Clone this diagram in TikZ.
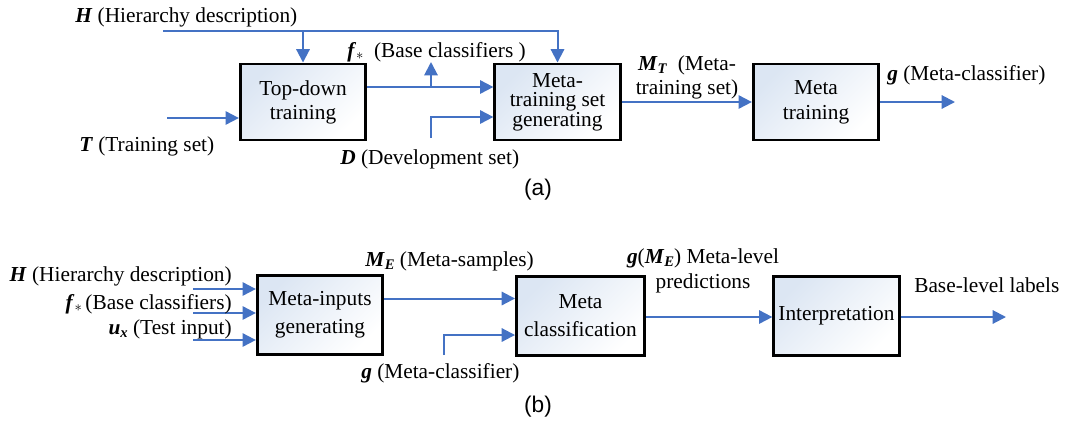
\documentclass[tikz,border=0pt]{standalone}
\usepackage{fontspec}
\setmainfont{Liberation Serif}
\setsansfont{Liberation Sans}
\usetikzlibrary{arrows.meta,calc}
\definecolor{lineblue}{RGB}{68,114,196}
\definecolor{boxtop}{RGB}{220,230,243}
\newcommand{\bim}[1]{\textbf{\textit{#1}}}
\newcommand{\subbi}[1]{\raisebox{-0.35ex}{\fontsize{11}{11}\selectfont\bim{#1}}}
\newcommand{\fstar}{\bim{f}\raisebox{-0.25ex}{\fontsize{11}{11}\selectfont$*$}}
\begin{document}
\begin{tikzpicture}[x=0.75pt,y=-0.75pt,
  lbl/.style={inner sep=0pt,font=\fontsize{16}{18}\selectfont},
  stepbox/.style={draw=black,line width=2.2pt,top color=boxtop,bottom color=white,shading angle=45,
    minimum width=94pt,minimum height=57pt,align=center,inner sep=0pt},
  arr/.style={draw=lineblue,line width=1.5pt,-{Triangle[length=10pt,width=10pt]}},
  plain/.style={draw=lineblue,line width=1.5pt}]
\path[use as bounding box] (0,0) rectangle (1067,426);

% ---------- (a) ----------
\node[stepbox,font=\fontsize{16}{18}\selectfont] (a1) at (303,102) {Top-down\\training};
\node[stepbox,font=\fontsize{16}{14.5}\selectfont] (a2) at (557.5,102) {Meta-\\training set\\generating};
\node[stepbox,font=\fontsize{16}{18.5}\selectfont] (a3) at (816,102) {Meta\\training};

\coordinate (Hs) at (163,31);
\coordinate (Ts) at (167,118);
\coordinate (fsplit) at (431,87);
\coordinate (fup) at (431,62);
\coordinate (Ds) at (431,138);
\coordinate (Dj) at (431,117);
\coordinate (gout) at (955,102);

\draw[arr] (Hs) -| (a2.north);
\draw[arr] (Hs -| a1.north) -- (a1.north);
\draw[arr] (Ts) -- (Ts -| a1.west);
\draw[arr] (a1.east |- fsplit) -- (a2.west |- fsplit);
\draw[arr] (fsplit) -- (fup);
\draw[arr] (Ds) -- (Dj) -- (Dj -| a2.west);
\draw[arr] (a2.east) -- (a3.west);
\draw[arr] (a3.east) -- (gout);

\node[lbl,anchor=base west] (lH) at (75,22) {\bim{H} (Hierarchy description)};
\node[lbl,anchor=base west] (lf) at (347,57) {\fstar\ \ (Base classifiers )};
\node[lbl,anchor=base west] (lT) at (79,151) {\bim{T} (Training set)};
\node[lbl,anchor=base west] (lD) at (340,164) {\bim{D} (Development set)};
\node[lbl,align=center,font=\fontsize{16}{18}\selectfont] (lM) at (687,77) {\bim{M}\subbi{T}\ \ (Meta-\\training set)};
\node[lbl,anchor=base west] (lg) at (887,80) {\bim{g} (Meta-classifier)};
\node[inner sep=0pt,font=\sffamily\fontsize{17}{19}\selectfont] (capa) at (538,190) {(a)};

% ---------- (b) ----------
\node[stepbox,minimum height=59pt,font=\fontsize{16}{21}\selectfont] (b1) at (320,315) {Meta-inputs\\generating};
\node[stepbox,minimum height=59pt,minimum width=96pt,font=\fontsize{16}{21}\selectfont] (b2) at (580.5,316) {Meta\\classification};
\node[stepbox,minimum height=59pt,font=\fontsize{16}{18}\selectfont] (b3) at (836.5,316) {Interpretation};

\coordinate (i1) at (193,289);
\coordinate (i2) at (193,313);
\coordinate (i3) at (193,340);
\coordinate (gs) at (444,355);
\coordinate (gj) at (444,335);
\coordinate (bout) at (1006,317);

\draw[arr] (i1) -- (i1 -| b1.west);
\draw[arr] (i2) -- (i2 -| b1.west);
\draw[arr] (i3) -- (i3 -| b1.west);
\draw[arr] (b1.east |- 0,298.5) -- (b2.west |- 0,298.5);
\draw[arr] (gs) -- (gj) -- (gj -| b2.west);
\draw[arr] (b2.east |- bout) -- (b3.west |- bout);
\draw[arr] (b3.east |- bout) -- (bout);

\node[lbl,anchor=base east] (lbH) at (232,281) {\bim{H} (Hierarchy description)};
\node[lbl,anchor=base east] (lbf) at (232,309) {\fstar\,(Base classifiers)};
\node[lbl,anchor=base east] (lbu) at (232,334) {\bim{u}\subbi{x} (Test input)};
\node[lbl,anchor=base west] (lME) at (365,266) {\bim{M}\subbi{E} (Meta-samples)};
\node[lbl,anchor=base west] (lbg) at (361,378) {\bim{g} (Meta-classifier)};
\node[lbl,align=center,font=\fontsize{16}{19}\selectfont] (lgM) at (703,271) {\bim{g}(\bim{M}\subbi{E}) Meta-level\\predictions};
\node[lbl,anchor=base west] (lbase) at (914,292) {Base-level labels};
\node[inner sep=0pt,font=\sffamily\fontsize{17}{19}\selectfont] (capb) at (538,407) {(b)};
\end{tikzpicture}
\end{document}
